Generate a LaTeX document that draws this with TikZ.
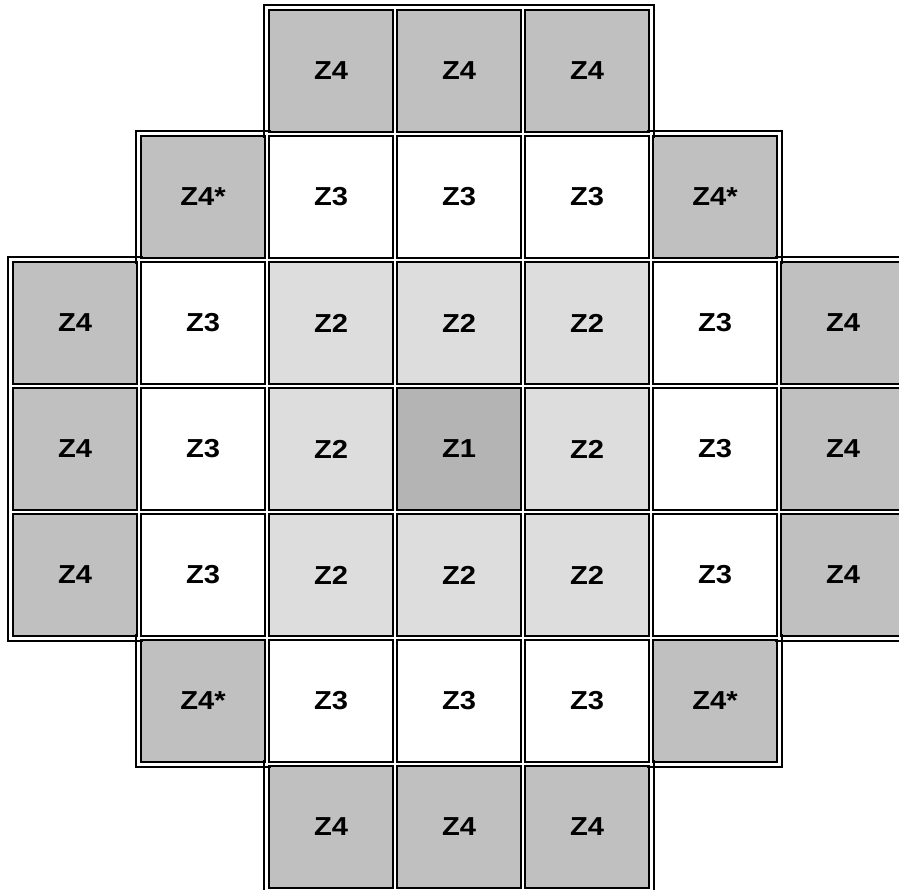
\documentclass[tikz,border=0pt]{standalone}
\usepackage{fontspec}
\setmainfont{Liberation Sans}
\definecolor{zfour}{RGB}{192,192,192}
\definecolor{ztwo}{RGB}{221,221,221}
\definecolor{zone}{RGB}{180,180,180}
\definecolor{zthree}{RGB}{255,255,255}
\begin{document}
\begin{tikzpicture}[x=1pt,y=-1pt,
  cellbox/.style={draw=black, line width=2pt, minimum width=124pt, minimum height=122pt,
    inner sep=0pt, anchor=north west, font=\fontsize{26}{31}\selectfont\bfseries},
  outerline/.style={draw=black, line width=2pt, line cap=rect}]
\useasboundingbox (0,0) rectangle (899,890);
\clip (0,0) rectangle (899,890);
\fill[white] (0,0) rectangle (899,890);
\foreach \r/\c/\t/\col in {
  0/2/Z4/zfour, 0/3/Z4/zfour, 0/4/Z4/zfour,
  1/1/Z4*/zfour, 1/2/Z3/zthree, 1/3/Z3/zthree, 1/4/Z3/zthree, 1/5/Z4*/zfour,
  2/0/Z4/zfour, 2/1/Z3/zthree, 2/2/Z2/ztwo, 2/3/Z2/ztwo, 2/4/Z2/ztwo, 2/5/Z3/zthree, 2/6/Z4/zfour,
  3/0/Z4/zfour, 3/1/Z3/zthree, 3/2/Z2/ztwo, 3/3/Z1/zone, 3/4/Z2/ztwo, 3/5/Z3/zthree, 3/6/Z4/zfour,
  4/0/Z4/zfour, 4/1/Z3/zthree, 4/2/Z2/ztwo, 4/3/Z2/ztwo, 4/4/Z2/ztwo, 4/5/Z3/zthree, 4/6/Z4/zfour,
  5/1/Z4*/zfour, 5/2/Z3/zthree, 5/3/Z3/zthree, 5/4/Z3/zthree, 5/5/Z4*/zfour,
  6/2/Z4/zfour, 6/3/Z4/zfour, 6/4/Z4/zfour}
  \node[cellbox, fill=\col] (n\r\c) at ({12+128*\c},{9+126*\r}) {\scalebox{1.12}[1]{\t}};
% outer border lines on the free sides of the edge cells
\foreach \n/\s in {
  02/t, 03/t, 04/t, 02/l, 04/r,
  11/t, 11/l, 15/t, 15/r,
  20/t, 20/l, 26/t, 26/r,
  30/l, 36/r,
  40/b, 40/l, 46/b, 46/r,
  51/b, 51/l, 55/b, 55/r,
  62/b, 63/b, 64/b, 62/l, 64/r}
{
  \if t\s
    \draw[outerline] ([shift={(-4,-4)}]n\n.north west) -- ([shift={(4,-4)}]n\n.north east);
  \fi
  \if b\s
    \draw[outerline] ([shift={(-4,4)}]n\n.south west) -- ([shift={(4,4)}]n\n.south east);
  \fi
  \if l\s
    \draw[outerline] ([shift={(-4,-4)}]n\n.north west) -- ([shift={(-4,4)}]n\n.south west);
  \fi
  \if r\s
    \draw[outerline] ([shift={(4,-4)}]n\n.north east) -- ([shift={(4,4)}]n\n.south east);
  \fi
}
\end{tikzpicture}
\end{document}
